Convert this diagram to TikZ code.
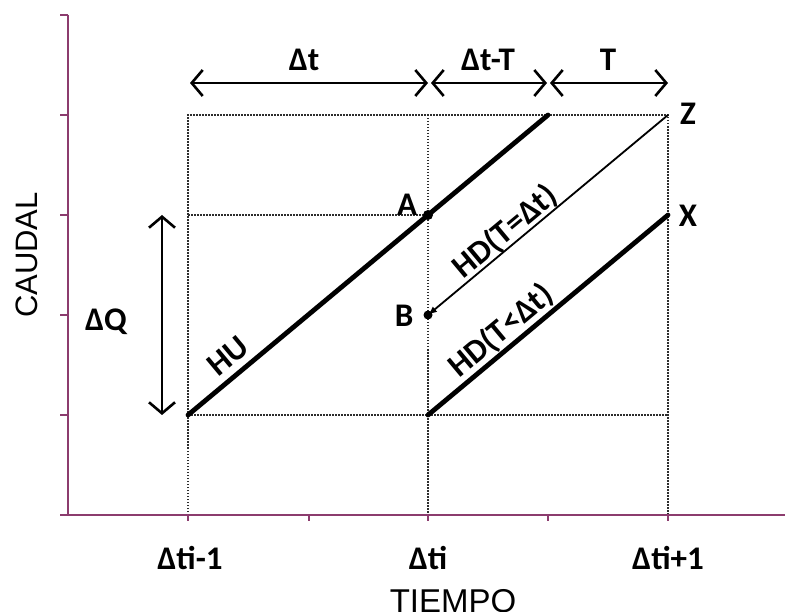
\documentclass[tikz,border=0pt]{standalone}
\usepackage{fontspec}
\setmainfont{Carlito}
\newfontfamily\arialf{Liberation Sans}
\usetikzlibrary{arrows.meta}
\definecolor{axiscol}{RGB}{140,60,110}
\definecolor{dotcol}{RGB}{45,45,45}
\begin{document}
\begin{tikzpicture}[x=1pt,y=-1pt,
  lbl/.style={font=\fontsize{33}{36}\selectfont\bfseries, inner sep=0pt},
  axlbl/.style={font=\arialf\fontsize{33}{36}\selectfont, inner sep=0pt},
  dotl/.style={line width=1.8pt, dash pattern=on 1.5pt off 1.5pt, dotcol},
  axisline/.style={line width=1.8pt, axiscol},
  tickline/.style={line width=1.2pt, axiscol},
  heavy/.style={line width=4.8pt, line cap=round},
  barb/.tip={Straight Barb[length=11pt,width=26pt,line width=2.6pt]},
  dbl/.style={line width=2pt, {barb}-{barb}}]
\useasboundingbox (0,0) rectangle (785,612);
\fill[white] (0,0) rectangle (785,612);

% key points
\coordinate (HUs) at (188,415);
\coordinate (HUe) at (548,115);
\coordinate (A) at (428,215);
\coordinate (B) at (428,315);
\coordinate (Z) at (668,115);
\coordinate (HDs) at (428,415);
\coordinate (X) at (668,215);

% dotted grid
\draw[dotl] (188,515) -- (188,115) -- (668,115) -- (668,515);
\draw[dotl] (428,115) -- (428,515);
\draw[dotl] (188,215) -- (428,215);
\draw[dotl] (188,415) -- (668,415);

% axes
\draw[axisline] (68,15) -- (68,515);
\draw[axisline] (60,515) -- (785,515);
\foreach \y in {15,115,215,315,415}
  \draw[tickline] (60,\y) -- (68,\y);
\foreach \x in {188,309,428,548,668}
  \draw[tickline] (\x,515) -- (\x,521);

% hydrographs
\draw[heavy] (HUs) -- (HUe);
\draw[heavy] (HDs) -- (X);
\draw[line width=1.8pt, -{Latex[length=9pt,width=7pt]}] (Z) -- (B);
\fill (A) circle (5);
\fill (B) circle (4.5);

% top interval arrows
\coordinate (t0) at (190,83);
\coordinate (t1) at (428,83);
\coordinate (t2) at (431,83);
\coordinate (t3) at (547,83);
\coordinate (t4) at (550,83);
\coordinate (t5) at (668,83);
\draw[dbl] (t0) -- (t1);
\draw[dbl] (t2) -- (t3);
\draw[dbl] (t4) -- (t5);
\node[lbl] (ldt) at (304,60) {Δt};
\node[lbl] (ldtt) at (488,60) {Δt-T};
\node[lbl] (lT) at (608,60) {T};

% Delta Q arrow
\coordinate (q1) at (162,215);
\coordinate (q2) at (162,415);
\draw[dbl] (q1) -- (q2);
\node[lbl] (lQ) at (106,322) {ΔQ};

% point labels
\node[lbl] (lA) at (407,205) {A};
\node[lbl] (lB) at (404,316) {B};
\node[lbl] (lZ) at (688,114) {Z};
\node[lbl] (lX) at (688,216) {X};

% curve labels
\node[lbl, rotate=39.8] (lHU) at (228,356) {HU};
\node[lbl, rotate=39.8] (lHD1) at (505,232) {HD(T=Δt)};
\node[lbl, rotate=39.8] (lHD2) at (501,331) {HD(T<Δt)};

% axis labels
\node[lbl] (x1) at (190,558) {Δti-1};
\node[lbl] (x2) at (428,558) {Δti};
\node[lbl] (x3) at (668,558) {Δti+1};
\node[axlbl] (lT2) at (453,601) {TIEMPO};
\node[axlbl, font=\arialf\fontsize{31}{34}\selectfont, rotate=90] (lC) at (27,255) {CAUDAL};
\end{tikzpicture}
\end{document}
